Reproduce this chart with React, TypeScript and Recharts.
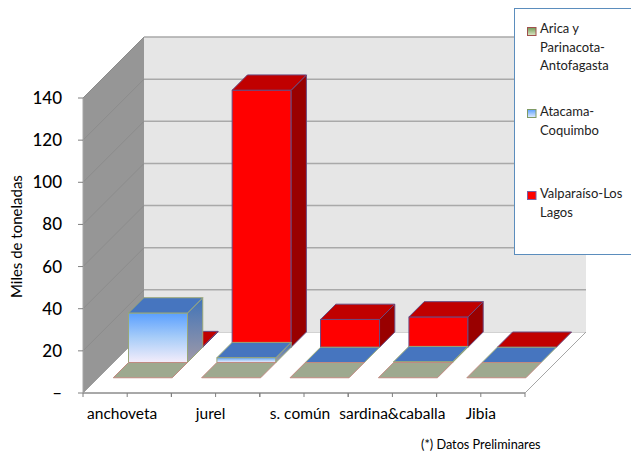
import { BarChart, Bar, XAxis, YAxis, CartesianGrid } from 'recharts';

const categories = ['anchoveta', 'jurel', 's. común', 'sardina&caballa', 'Jibia'];
const aricaValues = [0, 0, 0, 0, 0];
const atacamaValues = [23.5, 2.3, 0, 0.4, 0];
const valparaisoValues = [0.3, 122, 13.2, 14.4, 0];
const yTicks = [0, 20, 40, 60, 80, 100, 120, 140];
const labelNudge = [-5, -5, -4, 0, 0];

const seriesNames = ['Arica y Parinacota-Antofagasta', 'Atacama-Coquimbo', 'Valparaíso-Los Lagos'];

const chartData = categories.map((name, i) => ({
  name,
  arica: aricaValues[i],
  atacama: atacamaValues[i],
  valparaiso: valparaisoValues[i],
}));

const FONT = 'Lato, sans-serif';
const DEPTH = 61;
const ROW = DEPTH / 4;
const BAR_W = 59;
const LEFT = 83;
const RIGHT = 525;
const TOP = 98;
const BOTTOM = 393;

const Box3D = ({ x, y, width, height, row, front, top, side, stroke }: any) => {
  const d = ROW * row;
  const fx = x + d;
  const fy = y - d;
  const h = Math.max(height, 0);
  return (
    <g stroke={stroke} strokeWidth={1} strokeLinejoin="round">
      {h > 0.5 && <rect x={fx} y={fy} width={width} height={h} fill={front} />}
      {h > 0.5 && (
        <polygon
          points={`${fx + width},${fy} ${fx + width + ROW},${fy - ROW} ${fx + width + ROW},${fy + h - ROW} ${fx + width},${fy + h}`}
          fill={side}
        />
      )}
      <polygon
        points={`${fx},${fy} ${fx + ROW},${fy - ROW} ${fx + width + ROW},${fy - ROW} ${fx + width},${fy}`}
        fill={top}
      />
    </g>
  );
};

const GridLine = ({ x1, x2, y1 }: any) => {
  if (y1 >= BOTTOM - 1) return <g />;
  return (
    <g fill="none">
      <line x1={x1} y1={y1} x2={x1 + DEPTH} y2={y1 - DEPTH} stroke="#8c8c8c" />
      <line x1={x1 + DEPTH} y1={y1 - DEPTH} x2={x2 + DEPTH} y2={y1 - DEPTH} stroke="#a9a9a9" strokeWidth={1.5} />
    </g>
  );
};

const CategoryTick = ({ x, payload, index }: any) => {
  const half = (RIGHT - LEFT) / categories.length / 2;
  return (
    <g>
      <line x1={x - half} y1={BOTTOM} x2={x - half} y2={BOTTOM + 4} stroke="#7f7f7f" />
      <line x1={x} y1={BOTTOM} x2={x} y2={BOTTOM + 4} stroke="#7f7f7f" />
      <line x1={x + half} y1={BOTTOM} x2={x + half} y2={BOTTOM + 4} stroke="#7f7f7f" />
      <text x={x + labelNudge[index]} y={BOTTOM + 26} textAnchor="middle" fontFamily={FONT} fontSize={15.5} fill="#000">
        {payload.value}
      </text>
    </g>
  );
};

const ValueTick = ({ y, payload }: any) => (
  <g>
    <line x1={LEFT - 5} y1={y} x2={LEFT} y2={y} stroke="#7f7f7f" />
    <text x={62} y={y + 6} textAnchor="end" fontFamily={FONT} fontSize={17} fontWeight={500} fill="#000">
      {payload.value === 0 ? '–' : payload.value}
    </text>
  </g>
);

const LegendBox = () => {
  const items = [
    { y: 27, base: 33, lines: ['Arica y', 'Parinacota-', 'Antofagasta'], sw: 'url(#swGreen)', st: '#a0504d' },
    { y: 109, base: 116, lines: ['Atacama-', 'Coquimbo'], sw: 'url(#swBlue)', st: '#7f9a65' },
    { y: 191, base: 198, lines: ['Valparaíso-Los', 'Lagos'], sw: '#ff0000', st: '#7a5fa5' },
  ];
  return (
    <g>
      <rect x={514.5} y={8.5} width={132} height={246} fill="#fff" stroke="#5b8dbd" />
      {items.map((it, i) => (
        <g key={seriesNames[i]}>
          <rect x={527.5} y={it.y + 0.5} width={8.5} height={8} fill={it.sw} stroke={it.st} />
          {it.lines.map((l, j) => (
            <text key={l} x={540} y={it.base + j * 18.7} fontFamily={FONT} fontSize={13} fill="#222">
              {l}
            </text>
          ))}
        </g>
      ))}
    </g>
  );
};

export default function App() {
  return (
    <div style={{ position: 'absolute', left: 0, top: 0, width: 631, height: 456, overflow: 'hidden' }}>
      {/* back wall, side wall and floor sit under the chart's transparent svg */}
      <svg width={631} height={456} style={{ position: 'absolute', left: 0, top: 0 }}>
        <polygon points={`${LEFT},${BOTTOM} ${LEFT + DEPTH},${BOTTOM - DEPTH} ${RIGHT + DEPTH},${BOTTOM - DEPTH} ${RIGHT},${BOTTOM}`} fill="#fff" stroke="#a6a6a6" />
        <polygon points={`${LEFT + DEPTH},${TOP - DEPTH} ${RIGHT + DEPTH},${TOP - DEPTH} ${RIGHT + DEPTH},${BOTTOM - DEPTH} ${LEFT + DEPTH},${BOTTOM - DEPTH}`} fill="#e6e6e6" />
        <polygon points={`${LEFT},${TOP} ${LEFT + DEPTH},${TOP - DEPTH} ${LEFT + DEPTH},${BOTTOM - DEPTH} ${LEFT},${BOTTOM}`} fill="#969696" />
      </svg>
      <div style={{ position: 'absolute', left: 0, top: 0 }}>
        <BarChart
          width={631}
          height={456}
          data={chartData}
          margin={{ top: TOP, left: 0, right: 631 - RIGHT, bottom: 0 }}
          barSize={BAR_W}
          barGap={-BAR_W}
        >
          <defs>
            <linearGradient id="frontBlue" x1="0" y1="0" x2="0" y2="1">
              <stop offset="0" stopColor="#5a9fff" />
              <stop offset="0.5" stopColor="#a8cdf8" />
              <stop offset="1" stopColor="#f4edfb" />
            </linearGradient>
            <linearGradient id="sideBlue" x1="0" y1="0" x2="0" y2="1">
              <stop offset="0" stopColor="#3f73b8" />
              <stop offset="1" stopColor="#a09aa8" />
            </linearGradient>
            <linearGradient id="swGreen" x1="0" y1="0" x2="0" y2="1">
              <stop offset="0" stopColor="#6f9a55" />
              <stop offset="1" stopColor="#dfe8c8" />
            </linearGradient>
            <linearGradient id="swBlue" x1="0" y1="0" x2="0" y2="1">
              <stop offset="0" stopColor="#5a9fff" />
              <stop offset="1" stopColor="#e4eefc" />
            </linearGradient>
          </defs>
          <CartesianGrid vertical={false} horizontal={(p: any) => <GridLine {...p} />} />
          <XAxis
            dataKey="name"
            height={456 - BOTTOM}
            axisLine={{ stroke: '#7f7f7f' }}
            tickLine={false}
            tick={<CategoryTick />}
            interval={0}
          />
          <YAxis
            domain={[0, 140]}
            ticks={yTicks}
            width={LEFT}
            axisLine={{ stroke: '#a6a6a6' }}
            tickLine={false}
            tick={<ValueTick />}
          />
          <Bar
            dataKey="valparaiso"
            isAnimationActive={false}
            shape={(p: any) => <Box3D {...p} row={3} front="#ff0000" top="#c00000" side="#990000" stroke="#6a4a80" />}
          />
          <Bar
            dataKey="atacama"
            isAnimationActive={false}
            shape={(p: any) => <Box3D {...p} row={2} front="url(#frontBlue)" top="#4675bf" side="url(#sideBlue)" stroke="#9aa878" />}
          />
          <Bar
            dataKey="arica"
            isAnimationActive={false}
            shape={(p: any) => <Box3D {...p} row={1} front="#9ea98f" top="#9ea98f" side="#9ea98f" stroke="#c08a80" />}
          />
          <text x={22} y={298} transform="rotate(-90 22 298)" fontFamily={FONT} fontSize={15} fill="#000">
            Miles de toneladas
          </text>
          <text x={421} y={449} fontFamily={FONT} fontSize={12.7} fill="#000">
            (*) Datos Preliminares
          </text>
          <LegendBox />
        </BarChart>
      </div>
    </div>
  );
}
